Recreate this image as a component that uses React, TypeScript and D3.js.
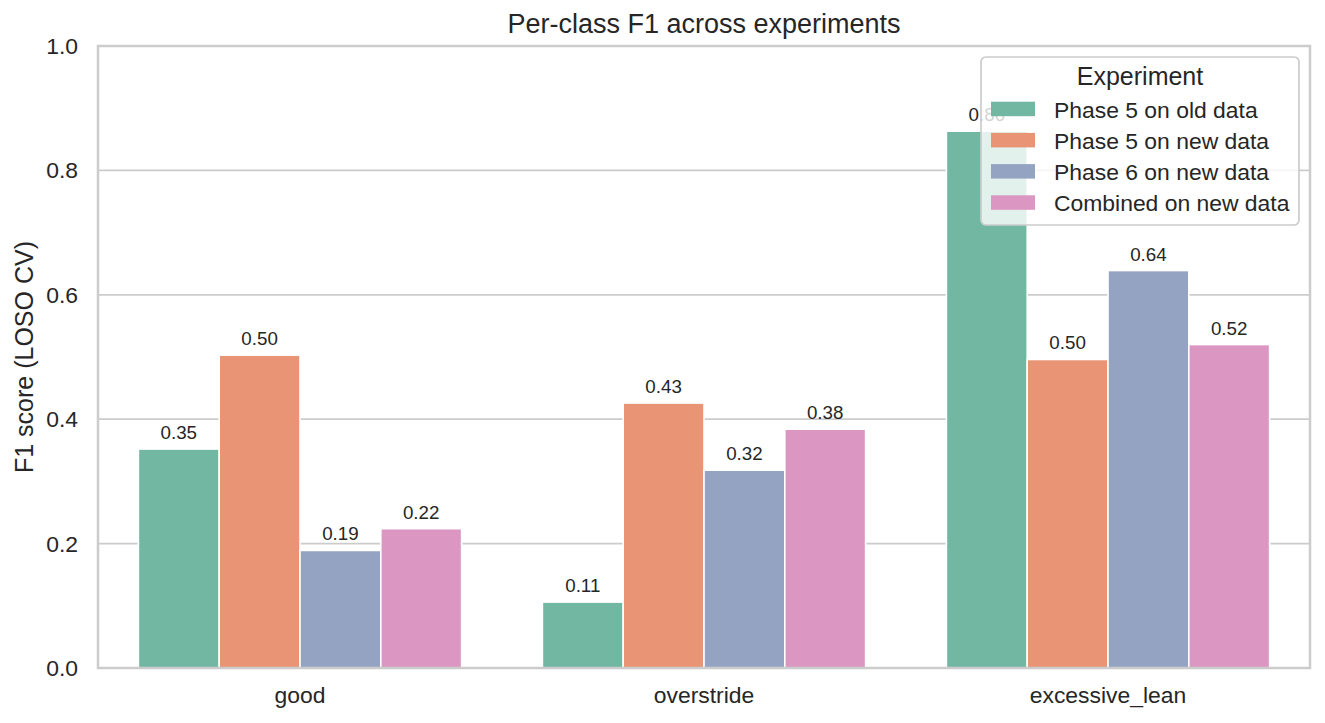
import * as d3 from "d3";

const WIDTH = 1325;
const HEIGHT = 723;
const MARGIN = { top: 46, right: 15, bottom: 55, left: 98 };

const categories = ["good", "overstride", "excessive_lean"];
const experiments = [
  "Phase 5 on old data",
  "Phase 5 on new data",
  "Phase 6 on new data",
  "Combined on new data",
];
// one array per experiment, same order as categories
const phase5Old = [0.352, 0.106, 0.863];
const phase5New = [0.503, 0.426, 0.496];
const phase6New = [0.189, 0.318, 0.639];
const combinedNew = [0.224, 0.384, 0.52];
const seriesValues = [phase5Old, phase5New, phase6New, combinedNew];
const yTicks = [0, 0.2, 0.4, 0.6, 0.8, 1.0];

// Set2, desaturated like seaborn does for bars
const colors = ["#71b7a1", "#e99575", "#95a3c3", "#db96c1"];

const FONT = "'Liberation Sans', Arial, sans-serif";
const TEXT = "#262626";
const GRID = "#cccccc";

export default function App() {
  const boundsWidth = WIDTH - MARGIN.left - MARGIN.right;
  const boundsHeight = HEIGHT - MARGIN.top - MARGIN.bottom;

  const xScale = d3.scaleBand().domain(categories).range([0, boundsWidth]);
  const xInner = d3
    .scaleBand()
    .domain(experiments)
    .range([0, xScale.bandwidth() * 0.8]);
  const yScale = d3.scaleLinear().domain([0, 1]).range([boundsHeight, 0]);

  const groupOffset = xScale.bandwidth() * 0.1;

  const bars = experiments.flatMap((exp, si) =>
    categories.map((cat, ci) => {
      const v = seriesValues[si][ci];
      const x = (xScale(cat) ?? 0) + groupOffset + (xInner(exp) ?? 0);
      const y = yScale(v);
      return (
        <g key={exp + cat}>
          <rect
            x={x}
            y={y}
            width={xInner.bandwidth()}
            height={boundsHeight - y}
            fill={colors[si]}
            stroke="white"
            strokeWidth={1.6}
          />
          <text
            x={x + xInner.bandwidth() / 2}
            y={y - 10}
            textAnchor="middle"
            fontSize={18.75}
            fill={TEXT}
          >
            {v.toFixed(2)}
          </text>
        </g>
      );
    })
  );

  // legend layout
  const legend = { x: 981, y: 57, w: 318, h: 168 };

  return (
    <svg
      width={WIDTH}
      height={HEIGHT}
      style={{ position: "absolute", left: 0, top: 0, background: "white" }}
      fontFamily={FONT}
    >
      <text
        x={MARGIN.left + boundsWidth / 2}
        y={33}
        textAnchor="middle"
        fontSize={27}
        fill={TEXT}
      >
        Per-class F1 across experiments
      </text>

      <g transform={`translate(${MARGIN.left},${MARGIN.top})`}>
        {/* grid */}
        {yTicks.map((t) => (
          <line
            key={t}
            x1={0}
            x2={boundsWidth}
            y1={yScale(t)}
            y2={yScale(t)}
            stroke={GRID}
            strokeWidth={1.7}
          />
        ))}

        {bars}

        {/* spines */}
        <rect
          x={0}
          y={0}
          width={boundsWidth}
          height={boundsHeight}
          fill="none"
          stroke={GRID}
          strokeWidth={2.5}
        />

        {/* y tick labels */}
        {yTicks.map((t) => (
          <text
            key={t}
            x={-20}
            y={yScale(t) + 8}
            textAnchor="end"
            fontSize={22.9}
            fill={TEXT}
          >
            {t.toFixed(1)}
          </text>
        ))}

        {/* x tick labels */}
        {categories.map((c) => (
          <text
            key={c}
            x={(xScale(c) ?? 0) + xScale.bandwidth() / 2}
            y={boundsHeight + 35}
            textAnchor="middle"
            fontSize={22.9}
            fill={TEXT}
          >
            {c}
          </text>
        ))}
      </g>

      <text
        transform={`translate(33,${MARGIN.top + boundsHeight / 2}) rotate(-90)`}
        textAnchor="middle"
        fontSize={25}
        fill={TEXT}
      >
        F1 score (LOSO CV)
      </text>

      {/* legend */}
      <g>
        <rect
          x={legend.x}
          y={legend.y}
          width={legend.w}
          height={legend.h}
          rx={5}
          fill="white"
          fillOpacity={0.8}
          stroke={GRID}
          strokeWidth={1.7}
        />
        <text
          x={legend.x + legend.w / 2}
          y={85}
          textAnchor="middle"
          fontSize={25}
          fill={TEXT}
        >
          Experiment
        </text>
        {experiments.map((e, i) => (
          <g key={e} transform={`translate(0,${117.7 + i * 31.2})`}>
            <rect x={991} y={-16} width={44} height={14.5} fill={colors[i]} />
            <text x={1054} y={0} fontSize={22.9} fill={TEXT}>
              {e}
            </text>
          </g>
        ))}
      </g>
    </svg>
  );
}
